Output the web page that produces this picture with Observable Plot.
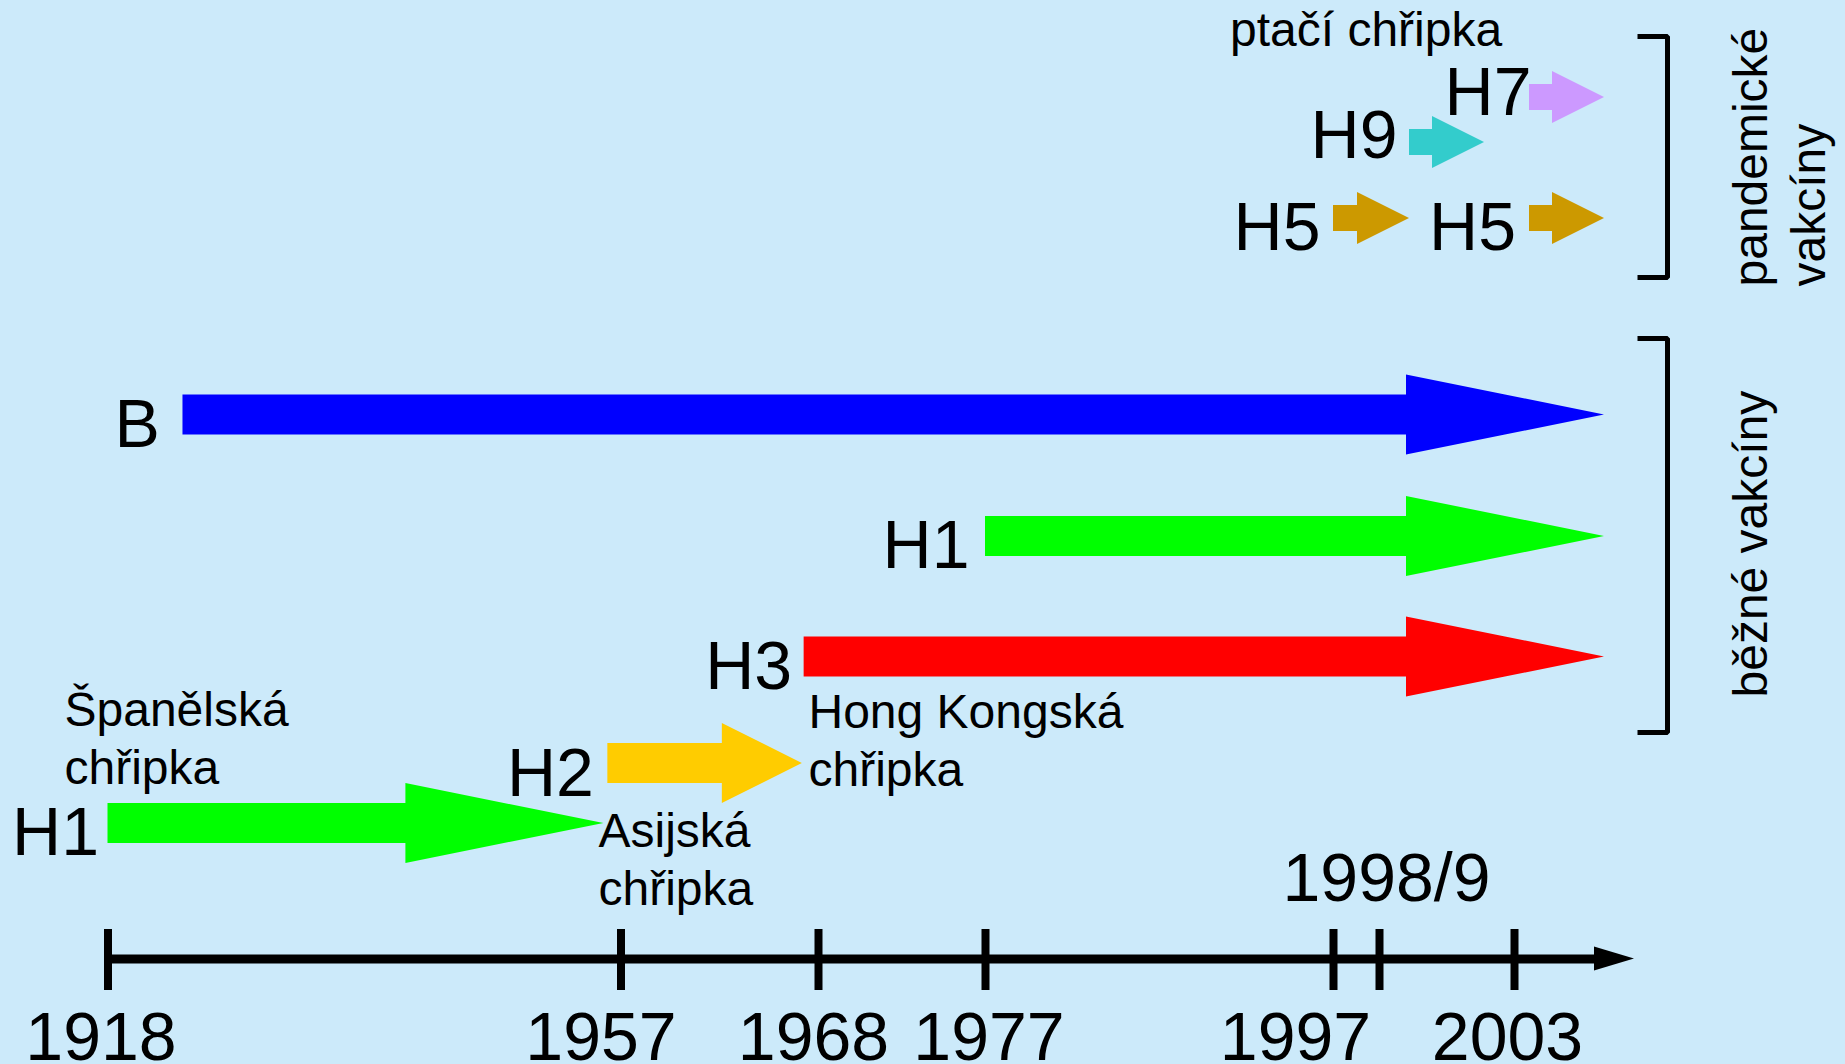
<!DOCTYPE html>
<html>
<head>
<meta charset="utf-8">
<script src="https://cdn.jsdelivr.net/npm/d3@7"></script>
<script src="https://cdn.jsdelivr.net/npm/@observablehq/plot@0.6"></script>
<style>
  html, body { margin: 0; padding: 0; background: #cceafa; }
  #chart svg { display: block; }
</style>
</head>
<body>
<div id="chart"></div>
<script>
// ---------- data ----------
// timeline (the reference's axis is not linear: piecewise scale through the tick years)
const tickYears  = [1918, 1957, 1968, 1977, 1997, 1998.5, 2003];
const tickLabels = ["1918", "1957", "1968", "1977", "1997", "1998/9", "2003"];
const tickPixels = [107.5, 620.5, 818, 985, 1333, 1379, 1514];
const axisEnd = 2007;
const axisRow = 958.5;

// strains (arrows)
const strainLabels = ["H1", "H2", "H3", "H1", "B", "H5", "H9", "H7", "H5"];
const strainStart  = [1918, 1956, 1967.2, 1977, 1923.7, 1997, 1999.5, 2003.5, 2003.5];
const strainEnd    = [1955.7, 1967.1, 2006, 2006, 2006, 1999.5, 2002, 2006, 2006];
const strainRow    = [823, 763, 656.5, 536, 414.5, 218, 142, 97, 218];
const strainKind   = ["large", "medium", "large", "large", "large", "small", "small", "small", "small"];

// annotations
const noteTexts = ["Španělská\nchřipka", "Asijská\nchřipka", "Hong Kongská\nchřipka", "ptačí chřipka"];
const noteYears = [1918, 1957, 1968, 1997];
const noteRows  = [783, 904, 785, 45];

// vaccine groups (brackets on the right)
const groupLabels = ["pandemické\nvakcíny", "běžné vakcíny"];
const groupTop    = [36, 338];
const groupBottom = [277, 732];

// ---------- styles ----------
const strainColors = {H1: "#00ff00", H2: "#ffcc00", H3: "#ff0000", B: "#0000ff", H5: "#cc9900", H9: "#33cccc", H7: "#cc99ff"};
const arrowShapes = {
  large:  {shaft: 40, head: 80, headLen: 198},
  medium: {shaft: 40, head: 80, headLen: 80},
  small:  {shaft: 26, head: 52, headLen: 52}
};
const labelDx = [-9, -14, -12, -16, -23, -13, -12, 2, -13.5];
const labelDy = [31, 32, 31.5, 31.5, 31.5, 31, 15, 17, 31];
const tickLabelDx = [-7, -20, -5, 3.5, -38, 7, -7];
const noteDx = [-43.5, -22.5, -10, -103.5];
const groupLabelDy = [9, -35];
const groupLineGap = 58;
const BIG = 68, SMALL = 48;
const W = 1845, H = 1064;

// ---------- scales ----------
const xOpts = {type: "linear", domain: tickYears, range: tickPixels};
const xs = Plot.scale({x: xOpts});
const px = (v) => xs.apply(v);
const yr = (p) => xs.invert(p);

// arrow polygons (shaft + head), expressed in data units
const arrowData = [];
strainLabels.forEach((lab, i) => {
  const s = arrowShapes[strainKind[i]];
  const tip = px(strainEnd[i]);
  const neck = yr(tip - s.headLen);
  const r = strainRow[i];
  const c = strainColors[lab];
  arrowData.push(
    {id: i, color: c, x: strainStart[i], y1: r - s.shaft / 2, y2: r + s.shaft / 2},
    {id: i, color: c, x: neck,           y1: r - s.shaft / 2, y2: r + s.shaft / 2},
    {id: i, color: c, x: neck,           y1: r - s.head / 2,  y2: r + s.head / 2},
    {id: i, color: c, x: strainEnd[i],   y1: r,               y2: r}
  );
});
const arrowLabelData = strainLabels.map((lab, i) => ({
  label: lab, x: yr(px(strainStart[i]) + labelDx[i]), y: strainRow[i] + labelDy[i]
}));

// axis
const axisTipPx = px(axisEnd);
const axisNeck = yr(axisTipPx - 40);
const axisHead = [
  {x: axisNeck, y1: axisRow - 12, y2: axisRow + 12},
  {x: axisEnd, y1: axisRow, y2: axisRow}
];
const tickData = tickYears.map((t, i) => ({t, label: tickLabels[i], x: yr(px(t) + tickLabelDx[i])}));
const bottomTicks = tickData.filter((d) => d.label !== "1998/9");
const topTicks = tickData.filter((d) => d.label === "1998/9");

// notes
const noteData = noteTexts.map((t, i) => ({text: t, x: yr(px(noteYears[i]) + noteDx[i]), y: noteRows[i]}));

// brackets
const tipPx = px(d3.max(strainEnd));
const bracketData = [];
groupLabels.forEach((g, i) => {
  const xa = yr(tipPx + 33), xb = yr(tipPx + 63);
  bracketData.push(
    {g: i, x: xa, y: groupTop[i]}, {g: i, x: xb, y: groupTop[i]},
    {g: i, x: xb, y: groupBottom[i]}, {g: i, x: xa, y: groupBottom[i]}
  );
});
const groupLabelData = groupLabels.map((g, i) => {
  const n = g.split("\n").length;
  return {text: g, x: yr(tipPx + 162 + (n - 1) * groupLineGap), y: groupBottom[i] + groupLabelDy[i]};
});

const chart = Plot.plot({
  width: W,
  height: H,
  margin: 0,
  x: {...xOpts, axis: null},
  y: {domain: [0, H], range: [0, H], axis: null},
  color: {type: "identity"},
  style: {background: "#cceafa", fontFamily: "'Liberation Sans', Arial, sans-serif", color: "black"},
  marks: [
    // arrows
    Plot.area(arrowData, {x1: "x", y1: "y1", y2: "y2", z: "id", fill: "color", curve: "linear"}),
    Plot.text(arrowLabelData, {x: "x", y: "y", text: "label", textAnchor: "end", lineAnchor: "bottom", fontSize: BIG, fill: "black"}),
    // timeline axis
    Plot.ruleY([axisRow], {x1: tickYears[0], x2: yr(axisTipPx - 38), stroke: "black", strokeWidth: 9}),
    Plot.area(axisHead, {x1: "x", y1: "y1", y2: "y2", fill: "black"}),
    Plot.ruleX(tickYears, {x: (d) => d, y1: axisRow - 29.5, y2: axisRow + 31.5, stroke: "black", strokeWidth: 8}),
    Plot.text(bottomTicks, {x: "x", y: () => axisRow, dy: 100.5, text: "label", lineAnchor: "bottom", fontSize: BIG, fill: "black"}),
    Plot.text(topTicks, {x: "x", y: () => axisRow, dy: -58.5, text: "label", lineAnchor: "bottom", fontSize: BIG, fill: "black"}),
    // notes
    Plot.text(noteData, {x: "x", y: "y", text: "text", textAnchor: "start", lineAnchor: "bottom", lineHeight: 58 / 48, fontSize: SMALL, fill: "black"}),
    // brackets
    Plot.line(bracketData, {x: "x", y: "y", z: "g", stroke: "black", strokeWidth: 5, strokeLinejoin: "miter", strokeLinecap: "butt", curve: "linear"}),
    Plot.text(groupLabelData, {x: "x", y: "y", text: "text", rotate: -90, textAnchor: "start", lineAnchor: "bottom", lineHeight: groupLineGap / SMALL, fontSize: SMALL, fill: "black"})
  ]
});
document.getElementById("chart").appendChild(chart);
</script>
</body>
</html>
